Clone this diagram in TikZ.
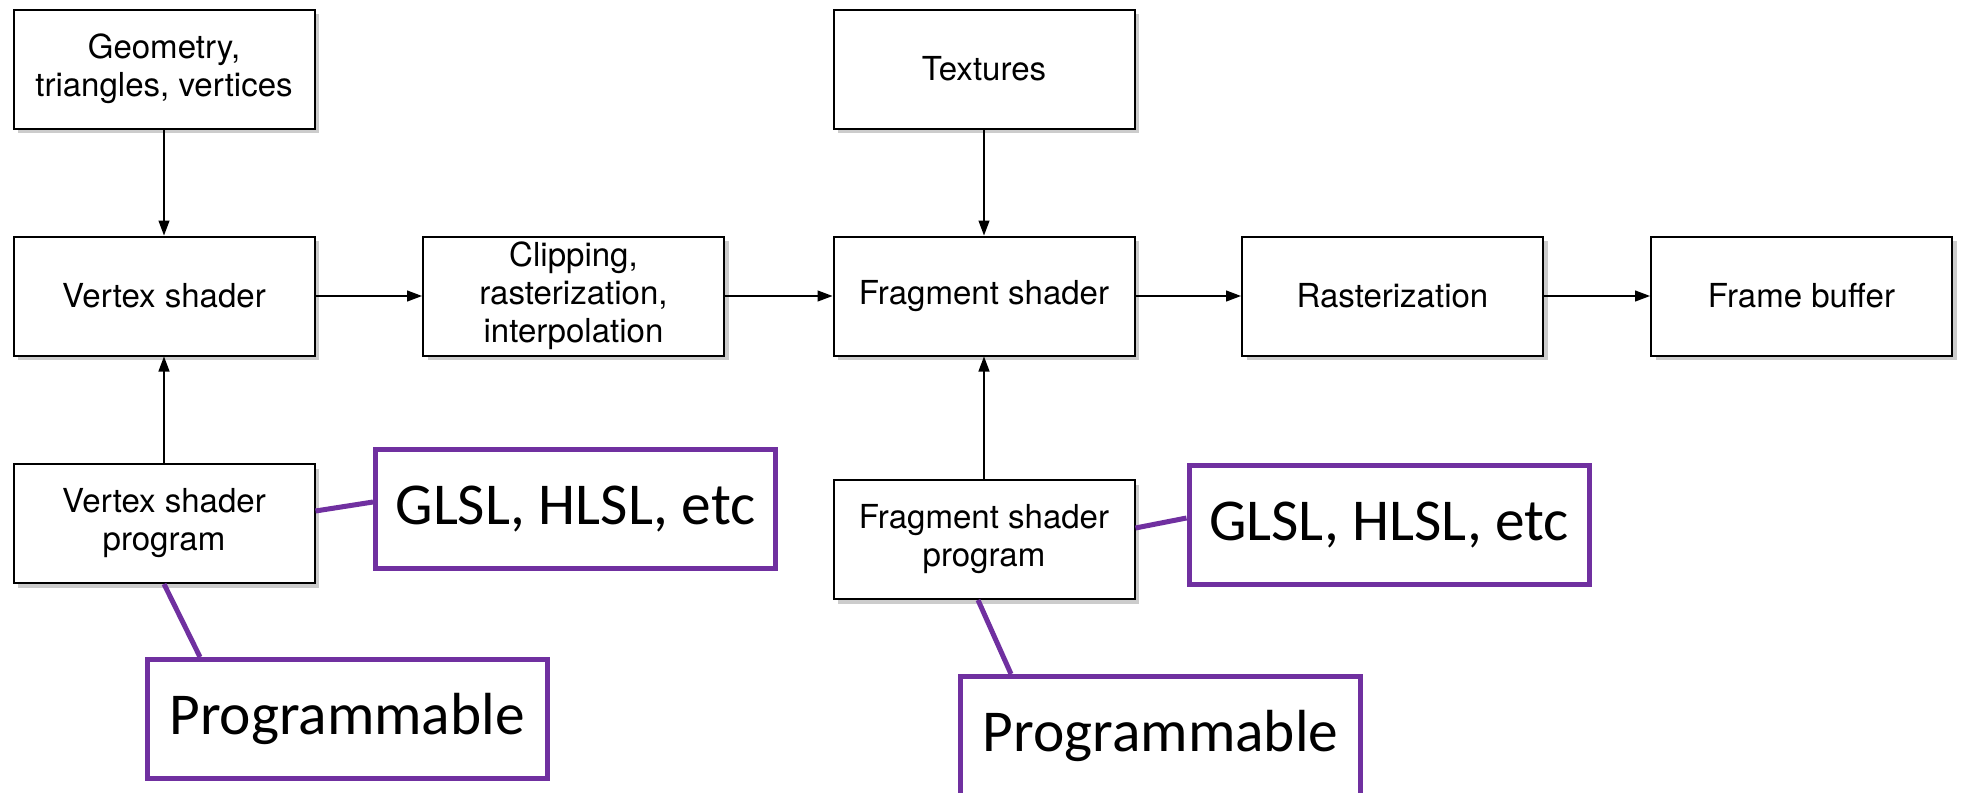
\documentclass[tikz,border=0pt]{standalone}
\usepackage{fontspec}
\setmainfont{TeX Gyre Heros}
\newfontfamily\calibri{Carlito}
\usetikzlibrary{arrows.meta,shadows}
\definecolor{progpurple}{RGB}{112,48,160}
\tikzset{
  stage/.style={draw,line width=0.2mm,fill=white,inner sep=1pt,
    minimum width=30.1mm,minimum height=11.9mm,align=center,
    font=\fontsize{9.4}{10.8}\selectfont,
    drop shadow={shadow xshift=0.45mm,shadow yshift=-0.45mm,opacity=0.4}},
  tag/.style={draw=progpurple,line width=0.5mm,fill=white,
    minimum width=40mm,minimum height=11.9mm,
    font=\calibri\fontsize{16.9}{20}\selectfont},
  tagline/.style={progpurple,line width=0.5mm}
}
\begin{document}
\begin{tikzpicture}[x=0.1mm,y=-0.1mm,>={Triangle[length=1.5mm,width=1.1mm]},line width=0.35pt]
\clip (0,0) rectangle (1963,793); % page size of the reference
% pipeline stages
\node[stage] (geom) at (164,69) {Geometry,\\triangles, vertices};
\node[stage] (tex) at (984,69) {Textures};
\node[stage] (vs) at (164,296) {Vertex shader};
\node[stage] (clip) at (573.5,296) {Clipping,\\rasterization,\\interpolation};
\node[stage] (fs) at (984,296) {Fragment shader};
\node[stage] (rast) at (1392.5,296) {Rasterization};
\node[stage] (fb) at (1801.5,296) {Frame buffer};
\node[stage] (vsp) at (164,523.5) {Vertex shader\\program};
\node[stage] (fsp) at (984,539.5) {Fragment shader\\program};
% arrows
\draw[->] (geom) -- (vs);
\draw[->] (tex) -- (fs);
\draw[->] (vsp) -- (vs);
\draw[->] (fsp) -- (fs);
\foreach \a/\b in {vs/clip,clip/fs,fs/rast,rast/fb}
\draw[->] (\a) -- (\b);
% purple call-outs
\node[tag] (glslv) at (575.5,509) {GLSL, HLSL, etc};
\node[tag] (glslf) at (1389,525) {GLSL, HLSL, etc};
\node[tag] (progv) at (347,719) {Programmable};
\node[tag] (progf) at (1160.5,736) {Programmable};
\draw[tagline] ([yshift=1.25mm]vsp.east) -- ([yshift=0.7mm]glslv.west);
\draw[tagline] ([yshift=1.15mm]fsp.east) -- ([yshift=0.7mm]glslf.west);
\draw[tagline] (vsp.south) -- ([xshift=-14.7mm]progv.north);
\draw[tagline] ([xshift=-0.6mm]fsp.south) -- ([xshift=-14.95mm]progf.north);
\end{tikzpicture}
\end{document}
